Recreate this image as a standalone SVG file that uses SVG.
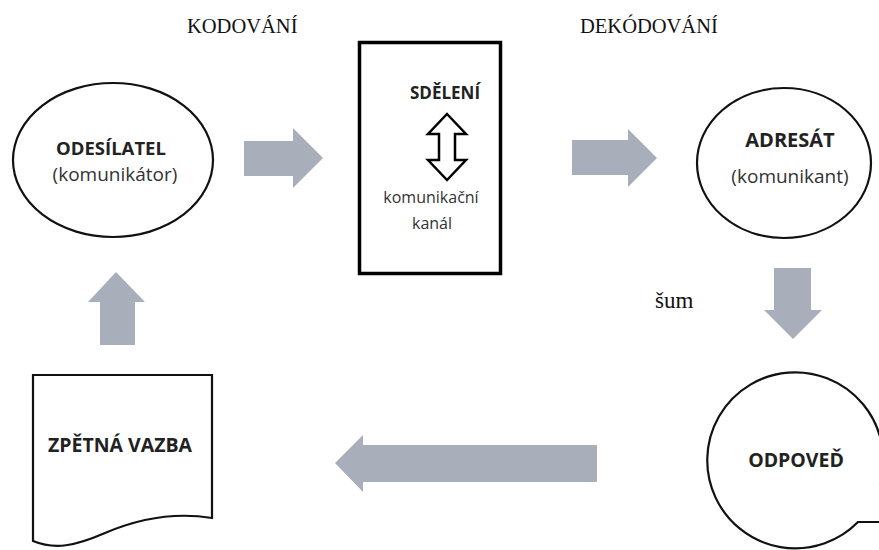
<svg xmlns="http://www.w3.org/2000/svg" width="879" height="550" viewBox="0 0 879 550">
<style>
.shape{fill:#fff;stroke:#111;stroke-width:2.2}
.b{font-family:"Open Sans","Liberation Sans",sans-serif;font-weight:bold;fill:#222;text-anchor:middle}
.r{font-family:"Open Sans","Liberation Sans",sans-serif;fill:#333;text-anchor:middle}
.t{font-family:"Liberation Serif","Times New Roman",serif;fill:#111}
.arr{fill:#A9AEBB}
</style>
<rect width="879" height="550" fill="#fff"/>
<text class="t" x="187" y="33" font-size="20.5">KODOVÁNÍ</text>
<text class="t" x="580" y="33" font-size="20.5">DEKÓDOVÁNÍ</text>
<text class="t" x="655" y="308" font-size="23">šum</text>
<g id="connectors">
<path class="arr" d="M244,141 H293 V128 L323,158 L293,188 V176 H244 Z"/>
<path class="arr" d="M572,140 H628 V129 L657,158 L628,187 V175 H572 Z"/>
<path class="arr" d="M774,268 H811 V310 H822 L793,339 L764,310 H774 Z"/>
<path class="arr" d="M597,445 H363 V435 L335,463 L363,492 V482 H597 Z"/>
<path class="arr" d="M100,345 V302 H88 L116,272 L145,302 H135 V345 Z"/>
</g>
<g id="odesilatel">
<ellipse class="shape" cx="113" cy="160" rx="100" ry="77"/>
<text class="b" x="111" y="155" font-size="18.5">ODESÍLATEL</text>
<text class="r" x="115" y="181" font-size="19">(komunikátor)</text>
</g>
<g id="sdeleni">
<rect x="359.5" y="42.5" width="141" height="231" fill="#fff" stroke="#000" stroke-width="3.5"/>
<text class="b" x="445" y="99" font-size="17">SDĚLENÍ</text>
<path d="M447,114 L466,134 H455 V160 H466 L447,180 L428,160 H439 V134 H428 Z" fill="#fff" stroke="#000" stroke-width="2.5" stroke-linejoin="miter"/>
<text class="r" x="431" y="203" font-size="16">komunikační</text>
<text class="r" x="432" y="229" font-size="16">kanál</text>
</g>
<g id="adresat">
<ellipse class="shape" cx="784" cy="163" rx="87" ry="75"/>
<text class="b" x="790" y="147" font-size="20">ADRESÁT</text>
<text class="r" x="790" y="183" font-size="19">(komunikant)</text>
</g>
<g id="odpoved">
<path class="shape" d="M858,522 A88,88 0 1 1 880,484 L920,522 Z"/>
<text class="b" x="796" y="467" font-size="19.5">ODPOVEĎ</text>
</g>
<g id="zpetna-vazba">
<path class="shape" d="M33,375 H212 V518 C175,512 140,518 105,533 C75,546 55,550 33,541 Z"/>
<text class="b" x="120" y="452" font-size="19.5">ZPĚTNÁ VAZBA</text>
</g>
</svg>
